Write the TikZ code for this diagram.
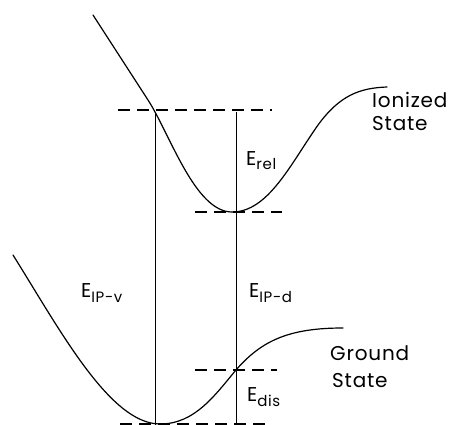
\documentclass[tikz,border=0pt]{standalone}
\usepackage{fontspec}
\setmainfont{Poppins}[LetterSpace=4]
\begin{document}
\newcommand{\sbx}[1]{\raisebox{-5pt}{\fontsize{15}{15}\selectfont #1}}
\begin{tikzpicture}[x=1pt,y=-1pt,
  curve/.style={line width=1.2pt, line cap=round},
  level/.style={line width=1.3pt, dash pattern=on 12pt off 7pt},
  gap/.style={line width=1pt},
  lab/.style={anchor=base west, inner sep=0pt, font=\fontsize{20}{22}\selectfont}]
\useasboundingbox (0,0) rectangle (466,425);
% key points
\coordinate (istart) at (93,15);
\coordinate (ivert) at (155,112);
\coordinate (imin) at (232,212);
\coordinate (iend) at (387,87);
\coordinate (gstart) at (13,255);
\coordinate (gmin) at (160,424);
\coordinate (gmid) at (236,370);
\coordinate (gend) at (343,328);
% ionized state curve
\draw[curve] (istart) -- (148,100) .. controls (170,134) and (195,212) .. (imin)
  .. controls (268,212) and (290,165) .. (318,125)
  .. controls (340,95) and (360,88) .. (iend);
% ground state curve
\draw[curve] (gstart) .. controls (60,330) and (110,424) .. (gmin)
  .. controls (195,424) and (215,395) .. (gmid)
  .. controls (262,340) and (290,328) .. (gend);
% dashed levels
\coordinate (l1a) at (118,110); \coordinate (l1b) at (272,110);
\coordinate (l2a) at (195,212); \coordinate (l2b) at (282,212);
\coordinate (l3a) at (195,370); \coordinate (l3b) at (277,370);
\coordinate (l4a) at (120,424); \coordinate (l4b) at (272,424);
\draw[level] (l1a) -- (l1b);
\draw[level] (l2a) -- (l2b);
\draw[level] (l3a) -- (l3b);
\draw[level] (l4a) -- (l4b);
% vertical gaps
\coordinate (vtop) at (155,112); \coordinate (vbot) at (155,425);
\coordinate (rtop) at (236,112); \coordinate (rmin) at (236,212);
\coordinate (rgnd) at (236,370); \coordinate (rbot) at (236,425);
\draw[gap] (vtop) -- (vbot);
\draw[gap] (rtop) -- (rmin);
\draw[gap] (rmin) -- (rgnd);
\draw[gap] (rgnd) -- (rbot);
% labels
\node[lab] (erel) at (246,165) {E\sbx{rel}};
\node[lab] (eipv) at (81,297) {E\sbx{IP-v}};
\node[lab] (eipd) at (249,297) {E\sbx{IP-d}};
\node[lab] (edis) at (247,401) {E\sbx{dis}};
\node[lab] (ion) at (372,108) {Ionized};
\node[lab] (ist) at (372,131) {State};
\node[lab] (gro) at (330,360) {Ground};
\node[lab] (gst) at (332,387) {State};
\end{tikzpicture}
\end{document}
